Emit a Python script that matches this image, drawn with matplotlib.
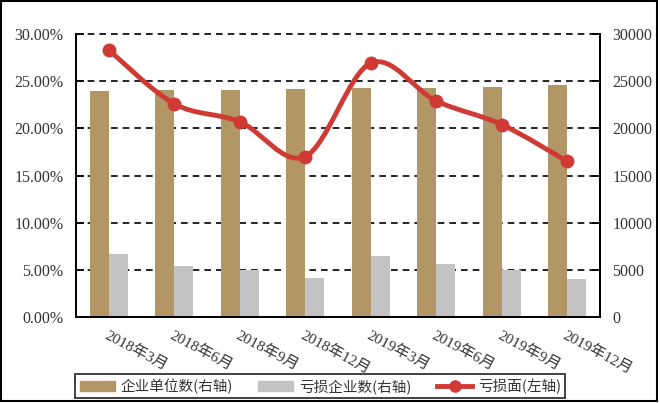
import numpy as np
import matplotlib
matplotlib.use("Agg")
import matplotlib.pyplot as plt
from matplotlib.path import Path
from matplotlib.patches import PathPatch, Rectangle
from matplotlib.lines import Line2D
from matplotlib.ticker import FuncFormatter, MultipleLocator

plt.rcParams["font.family"] = ["Liberation Serif", "Noto Sans CJK SC"]

quarters = ["2018年3月", "2018年6月", "2018年9月", "2018年12月",
            "2019年3月", "2019年6月", "2019年9月", "2019年12月"]
firms = [24000, 24100, 24100, 24200, 24300, 24300, 24400, 24600]
loss_firms = [6700, 5400, 5000, 4100, 6500, 5600, 5000, 4000]
loss_ratio = [28.3, 22.6, 20.7, 17.0, 26.9, 22.9, 20.4, 16.5]

TAN = "#B39665"
GRAY = "#C3C3C3"
RED = "#CF3A35"
TXT = "#333333"

fig, ax = plt.subplots(figsize=(6.6, 4.03), dpi=100)
fig.subplots_adjust(left=0.115, right=0.909, top=0.916, bottom=0.213)
ax2 = ax.twinx()

x = np.arange(len(quarters))
w = 0.29
ax2.bar(x - w / 2, firms, w, color=TAN, zorder=2)
ax2.bar(x + w / 2, loss_firms, w, color=GRAY, zorder=2)
ax2.set_ylim(0, 30000)
ax2.yaxis.set_major_locator(MultipleLocator(5000))

ax.set_ylim(0, 30)
ax.set_xlim(-0.5, len(quarters) - 0.5)
ax.yaxis.set_major_locator(MultipleLocator(5))
ax.yaxis.set_major_formatter(FuncFormatter(lambda v, p: f"{v:.2f}%"))

# dashed gridlines (the top one replaces the top spine)
for v in range(5000, 30001, 5000):
    ax2.axhline(v, color="black", ls=(0, (4, 3)), lw=1.2, zorder=1.5,
                clip_on=False)

# smoothed loss line (cubic bezier through the points), drawn on top
ax.set_zorder(ax2.get_zorder() + 1)
ax.patch.set_visible(False)
px = np.array(x, dtype=float)
py = np.array(loss_ratio, dtype=float)
verts = [(px[0], py[0])]
codes = [Path.MOVETO]
t = 0.5 / 3
for i in range(len(px) - 1):
    p0 = (px[i - 1], py[i - 1]) if i > 0 else (px[i], py[i])
    p1 = (px[i], py[i])
    p2 = (px[i + 1], py[i + 1])
    p3 = (px[i + 2], py[i + 2]) if i + 2 < len(px) else p2
    c1 = (p1[0] + (p2[0] - p0[0]) * t, p1[1] + (p2[1] - p0[1]) * t)
    c2 = (p2[0] - (p3[0] - p1[0]) * t, p2[1] - (p3[1] - p1[1]) * t)
    verts += [c1, c2, p2]
    codes += [Path.CURVE4] * 3
ax.add_patch(PathPatch(Path(verts, codes), fill=False, edgecolor=RED,
                       lw=3.5, capstyle="round", joinstyle="round", zorder=3))
ax.plot(px, py, "o", color=RED, ms=9, zorder=4)

for a in (ax, ax2):
    for s in a.spines.values():
        s.set_linewidth(1.3)
    a.spines["top"].set_visible(False)
ax.tick_params(axis="y", direction="in", length=6, width=1.3, labelsize=11.5,
               pad=9, labelcolor=TXT)
ax2.tick_params(axis="y", direction="in", length=6, width=1.3, labelsize=11.5,
                pad=9, labelcolor=TXT)
ax.set_xticks(np.arange(-0.5, len(quarters), 1.0), minor=False)
ax.set_xticklabels([])
ax.tick_params(axis="x", direction="in", length=6, width=1.3)
ax.set_xticks(x, minor=True)
ax.set_xticklabels(quarters, minor=True, rotation=-28, ha="left", va="top",
                   rotation_mode="anchor", fontsize=11, color=TXT)
ax.tick_params(axis="x", which="minor", length=0, pad=8)
ax2.set_xticks([])
for lbl in ax.get_xticklabels(minor=True):
    lbl.set_x(lbl.get_position()[0] - 0.1)

handles = [Rectangle((0, 0), 1, 1, color=TAN),
           Rectangle((0, 0), 1, 1, color=GRAY),
           Line2D([], [], color=RED, lw=3.5, marker="o", ms=8)]
labels = ["企业单位数(右轴)", "亏损企业数(右轴)", "亏损面(左轴)"]
leg = fig.legend(handles, labels, loc="lower left", bbox_to_anchor=(0.114, 0.012),
                 ncol=3, frameon=True, fancybox=False, edgecolor="black",
                 handlelength=2.4, handleheight=0.7,
                 columnspacing=1.75, borderpad=0.3, handletextpad=0.4,
                 borderaxespad=0.0,
                 prop={"family": ["Noto Sans CJK SC"], "size": 10.5})
leg.get_frame().set_linewidth(1.3)
for txt in leg.get_texts():
    txt.set_color(TXT)

fig.patches.append(Rectangle((0.002, 0.004), 0.994, 0.994, transform=fig.transFigure,
                             fill=False, edgecolor="black", lw=1.5))

fig.savefig("out.png", dpi=100)
